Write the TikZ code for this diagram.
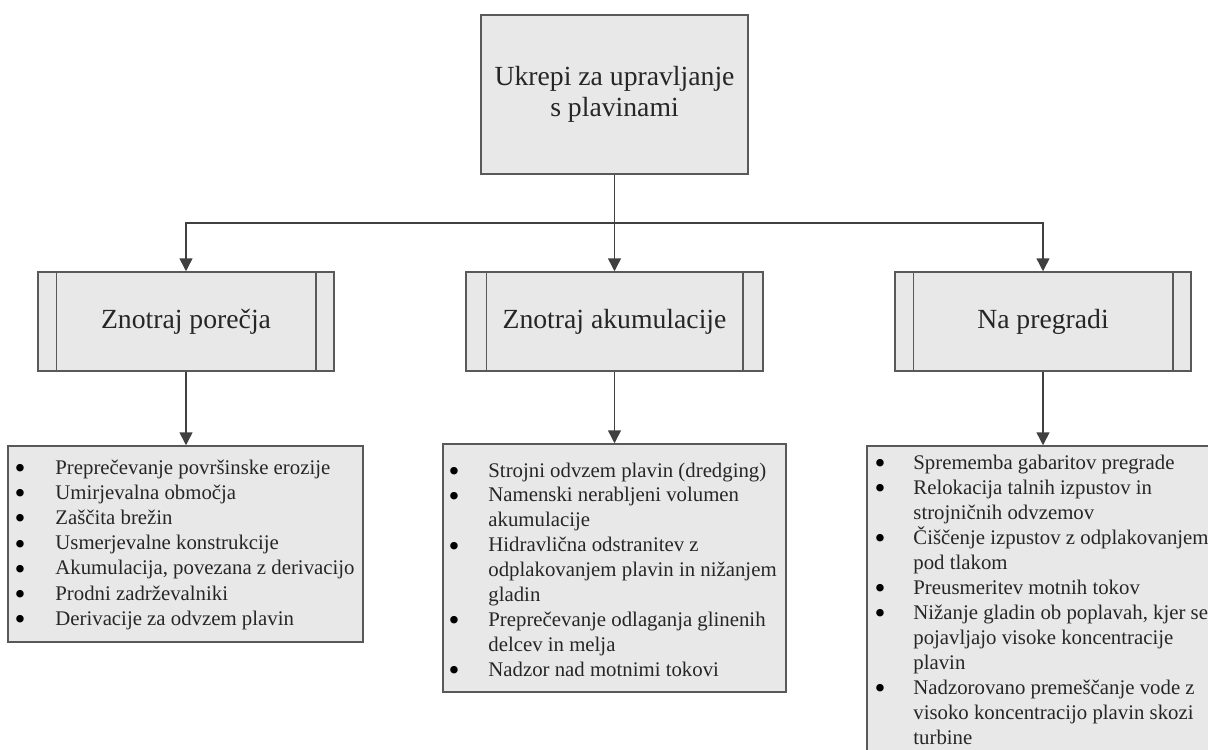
\documentclass[tikz,border=0pt]{standalone}
\usepackage{fontspec}
\setmainfont{Liberation Serif}
\usetikzlibrary{arrows.meta}
\definecolor{boxfill}{HTML}{E8E8E8}
\definecolor{boxline}{HTML}{595959}
\definecolor{arrowc}{HTML}{404040}
\definecolor{txt}{HTML}{262626}
\newcommand{\bul}{\hspace*{0.6pt}\raisebox{-0.22em}{\scalebox{1.5}{\color{black}\textbullet}}}
\begin{document}
\begin{tikzpicture}[x=0.5pt,y=-0.5pt,
  box/.style={draw=boxline, fill=boxfill, line width=0.75pt, inner sep=0pt, text=txt},
  bigfont/.style={font=\fontsize{13.85}{15.5}\selectfont},
  midbox/.style={box, bigfont, minimum width=148pt, minimum height=49.5pt},
  listbox/.style={box},
  listtext/.style={anchor=base west, inner sep=0pt, text=txt},
  conn/.style={draw=arrowc, line width=0.75pt},
  arr/.style={conn, -{Triangle[width=6.5pt,length=6.5pt]}}]
\useasboundingbox (0,0) rectangle (1208,749);
\clip (0,0) rectangle (1208,749);

% top box
\node[box, bigfont, minimum width=133.5pt, minimum height=79.5pt, align=center] (top) at (614.5,94.5) {Ukrepi za upravljanje\\ s plavinami};

% middle row
\node[midbox] (b1) at (186,321.5) {Znotraj porečja};
\node[midbox, minimum width=148.5pt] (b2) at (614.5,321.5) {Znotraj akumulacije};
\node[midbox] (b3) at (1043,321.5) {Na pregradi};
\foreach \n/\d in {b1/9.5pt,b2/10.5pt,b3/9.5pt}{
  \draw[draw=boxline, line width=0.75pt] ([xshift=\d]\n.north west) -- ([xshift=\d]\n.south west);
  \draw[draw=boxline, line width=0.75pt] ([xshift=-\d]\n.north east) -- ([xshift=-\d]\n.south east);
}

% list boxes
\node[listbox, minimum width=177.5pt, minimum height=98pt] (l1) at (185.5,544) {};
\node[listbox, minimum width=171.5pt, minimum height=124pt] (l2) at (614.5,568) {};
\node[listbox, minimum width=176.5pt, minimum height=162pt] (l3) at (1043.5,608) {};

\node[listtext, font=\fontsize{10.4}{12.6}\selectfont] (t1) at (13,474) {\begin{tabular}[t]{@{}p{21pt}@{}l@{}}
\bul & Preprečevanje površinske erozije\\
\bul & Umirjevalna območja\\
\bul & Zaščita brežin\\
\bul & Usmerjevalne konstrukcije\\
\bul & Akumulacija, povezana z derivacijo\\
\bul & Prodni zadrževalniki\\
\bul & Derivacije za odvzem plavin
\end{tabular}};

\node[listtext, font=\fontsize{10.4}{12.45}\selectfont] (t2) at (447,477) {\begin{tabular}[t]{@{}p{20.5pt}@{}l@{}}
\bul & Strojni odvzem plavin (dredging)\\
\bul & Namenski nerabljeni volumen\\
 & akumulacije\\
\bul & Hidravlična odstranitev z\\
 & odplakovanjem plavin in nižanjem\\
 & gladin\\
\bul & Preprečevanje odlaganja glinenih\\
 & delcev in melja\\
\bul & Nadzor nad motnimi tokovi
\end{tabular}};

\node[listtext, font=\fontsize{10.4}{12.5}\selectfont] (t3) at (873,469) {\begin{tabular}[t]{@{}p{20pt}@{}l@{}}
\bul & Sprememba gabaritov pregrade\\
\bul & Relokacija talnih izpustov in\\
 & strojničnih odvzemov\\
\bul & Čiščenje izpustov z odplakovanjem\\
 & pod tlakom\\
\bul & Preusmeritev motnih tokov\\
\bul & Nižanje gladin ob poplavah, kjer se\\
 & pojavljajo visoke koncentracije\\
 & plavin\\
\bul & Nadzorovano premeščanje vode z\\
 & visoko koncentracijo plavin skozi\\
 & turbine
\end{tabular}};

% connectors
\coordinate (j) at (614.5,223);
\draw[conn] (top.south) -- (j);
\draw[arr] (j) -| (b1.north);
\draw[arr] (j) -- (b2.north);
\draw[arr] (j) -| (b3.north);
\draw[arr] (b1.south) -- (b1.south |- l1.north);
\draw[arr] (b2.south) -- (b2.south |- l2.north);
\draw[arr] (b3.south) -- (b3.south |- l3.north);
\end{tikzpicture}
\end{document}
